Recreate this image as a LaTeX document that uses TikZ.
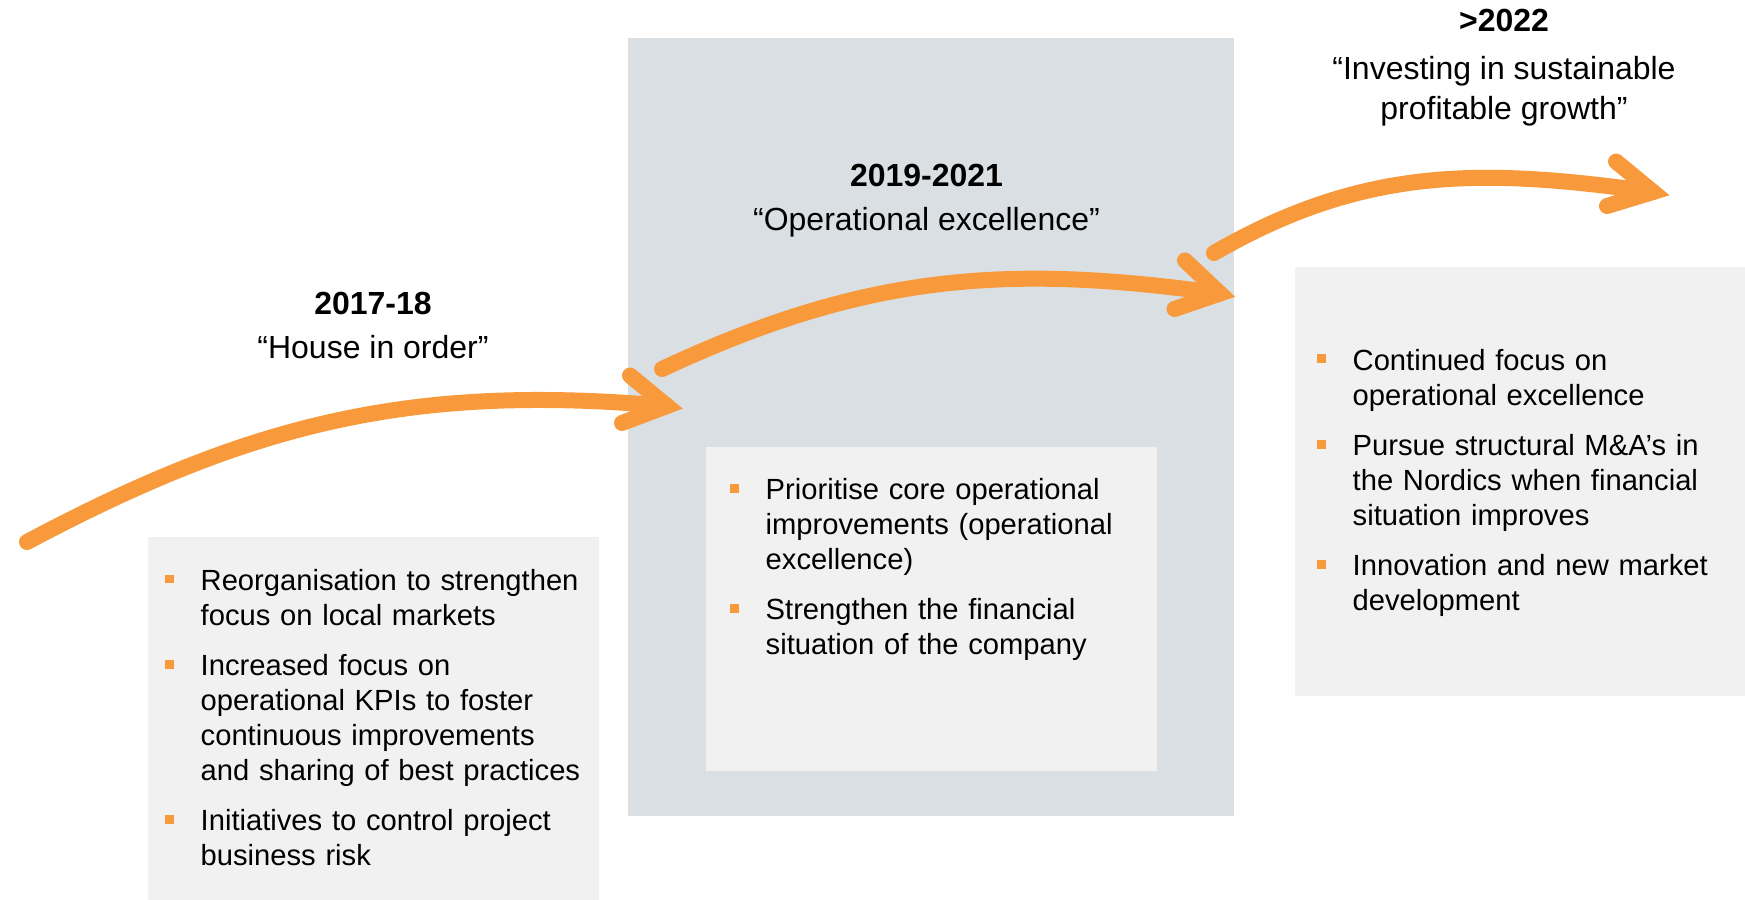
\documentclass[tikz,border=0pt]{standalone}
\usepackage{fontspec}
\setmainfont{Liberation Sans}
\usetikzlibrary{positioning}

\definecolor{accent}{RGB}{248,154,59}
\definecolor{panelgrey}{RGB}{218,223,227}
\definecolor{boxgrey}{RGB}{241,241,241}

% square orange bullets
\newenvironment{keypoints}{%
  \begin{list}{\textcolor{accent}{\rule[0.24em]{0.09cm}{0.09cm}}}{%
    \setlength{\leftmargin}{0.36cm}%
    \setlength{\labelwidth}{0.09cm}%
    \setlength{\labelsep}{0.27cm}%
    \setlength{\itemsep}{4.3pt}%
    \setlength{\parsep}{0pt}%
    \setlength{\topsep}{0pt}%
    \setlength{\partopsep}{0pt}}}%
  {\end{list}}

\begin{document}
\begin{tikzpicture}[
    flow/.style={draw=accent, line width=0.16cm, line cap=round},
    head/.style={flow, line join=miter},
    era/.style={align=center, anchor=base, font=\fontsize{9.1}{11.4}\selectfont},
    points/.style={anchor=base west, inner sep=0pt, text width=4.4cm,
                   font=\fontsize{8.3}{9.96}\selectfont}
  ]
  \useasboundingbox (0,0) rectangle (17.45,9);

  % background panel and text cards
  \fill[panelgrey] (6.28,0.84) rectangle (12.34,8.62);
  \fill[boxgrey] (1.48,0) rectangle (5.99,3.63);
  \fill[boxgrey] (7.06,1.29) rectangle (11.57,4.53);
  \fill[boxgrey] (12.95,2.04) rectangle (17.45,6.33);

  % headings (base = last line)
  \node[era] (era1) at (3.73,5.41)  {\textbf{2017-18}\\[1.4pt]“House in order”};
  \node[era] (era2) at (9.265,6.69) {\textbf{2019-2021}\\[1.4pt]“Operational excellence”};
  \node[era] (era3) at (15.04,7.80) {\textbf{>2022}\\[2.4pt]“Investing in sustainable\\profitable growth”};

  % arrows
  \coordinate (a1s) at (0.27,3.58);
  \coordinate (a1e) at (6.67,4.94);
  \coordinate (a2s) at (6.62,5.31);
  \coordinate (a2e) at (12.20,6.065);
  \coordinate (a3s) at (12.14,6.47);
  \coordinate (a3e) at (16.53,7.08);

  \draw[flow] (a1s) to[out=28,in=175] (a1e);
  \draw[head] (a1e) ++(-0.37,0.305) -- (a1e) -- ++(-0.45,-0.17);
  \draw[flow] (a2s) to[out=25,in=172] (a2e);
  \draw[head] (a2e) ++(-0.35,0.33) -- (a2e) -- ++(-0.455,-0.155);
  \draw[flow] (a3s) to[out=30,in=172] (a3e);
  \draw[head] (a3e) ++(-0.37,0.305) -- (a3e) -- ++(-0.46,-0.14);

  % bullet lists
  \node[points] (pts1) at (1.64,3.445) {\begin{keypoints}
      \item Reorganisation to strengthen\\focus on local markets
      \item Increased focus on\\operational KPIs to foster\\continuous improvements\\and sharing of best practices
      \item Initiatives to control project\\business risk
    \end{keypoints}};
  \node[points] (pts2) at (7.29,4.355) {\begin{keypoints}
      \item Prioritise core operational\\improvements (operational\\excellence)
      \item Strengthen the financial\\situation of the company
    \end{keypoints}};
  \node[points] (pts3) at (13.16,5.645) {\begin{keypoints}
      \item Continued focus on\\operational excellence
      \item Pursue structural M\&A’s in\\the Nordics when financial\\situation improves
      \item Innovation and new market\\development
    \end{keypoints}};
\end{tikzpicture}
\end{document}
